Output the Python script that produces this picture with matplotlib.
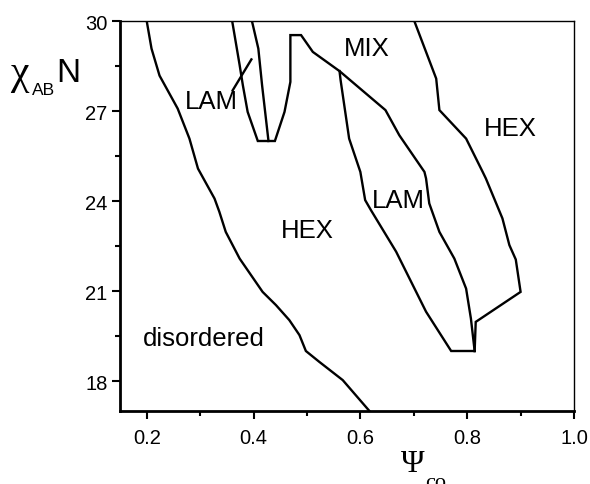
import matplotlib
matplotlib.use("Agg")
import matplotlib.pyplot as plt
from matplotlib.ticker import MultipleLocator, FormatStrFormatter

plt.rcParams['font.family'] = ['Liberation Sans', 'DejaVu Sans']

# Phase boundaries in the (psi_co, chi_AB N) plane
odt_x = [0.200, 0.209, 0.224, 0.258, 0.280, 0.296, 0.327, 0.336, 0.348, 0.374,
         0.417, 0.442, 0.467, 0.486, 0.498, 0.523, 0.567, 0.617]
odt_y = [30.0, 29.08, 28.18, 27.08, 26.08, 25.08, 24.08, 23.64, 22.97, 22.08,
         20.97, 20.53, 20.03, 19.53, 19.0, 18.64, 18.03, 17.0]

# LAM pocket, MIX boundary and right edge of the central LAM region
lam_outer_x = [0.360, 0.374, 0.380, 0.389, 0.408, 0.440, 0.458, 0.469, 0.469,
               0.489, 0.511, 0.561, 0.647, 0.673, 0.720, 0.723, 0.729, 0.748,
               0.776, 0.798, 0.807, 0.814]
lam_outer_y = [30.0, 28.53, 27.86, 26.97, 26.0, 26.0, 26.97, 27.97, 29.53,
               29.53, 28.97, 28.33, 27.03, 26.19, 24.97, 24.75, 23.92, 22.97,
               22.08, 21.08, 20.08, 19.0]

lam_inner_x = [0.397, 0.409, 0.416, 0.428]
lam_inner_y = [30.0, 29.08, 27.86, 26.0]

# Left edge of the central LAM region
lam_mid_x = [0.561, 0.563, 0.579, 0.600, 0.609, 0.620, 0.667, 0.723, 0.770, 0.814]
lam_mid_y = [28.33, 28.03, 26.08, 24.97, 24.03, 23.69, 22.31, 20.31, 19.0, 19.0]

# Boundary of the HEX region at high psi_co
hex_x = [0.814, 0.816, 0.900, 0.891, 0.879, 0.866, 0.835, 0.829, 0.798, 0.748,
         0.742, 0.701]
hex_y = [19.0, 19.97, 20.97, 22.05, 22.53, 23.42, 24.75, 24.97, 26.08, 27.03,
         28.08, 30.0]

# Leader line to the small LAM pocket
leader_x = [0.361, 0.396]
leader_y = [27.69, 28.72]

phase_labels = ["LAM", "MIX", "HEX", "LAM", "HEX", "disordered"]
label_x = [0.322, 0.612, 0.880, 0.671, 0.500, 0.3065]
label_y = [27.32, 29.10, 26.45, 24.03, 23.03, 19.45]

x_ticks = [0.2, 0.4, 0.6, 0.8, 1.0]
y_ticks = [18, 21, 24, 27, 30]

fig = plt.figure(figsize=(5.9, 4.85), dpi=100)
ax = fig.add_axes([120 / 590, 73 / 485, 454 / 590, 390 / 485])

lw = 1.7
for xs, ys in [(odt_x, odt_y), (lam_outer_x, lam_outer_y),
               (lam_inner_x, lam_inner_y), (lam_mid_x, lam_mid_y),
               (hex_x, hex_y), (leader_x, leader_y)]:
    ax.plot(xs, ys, color='black', lw=lw, solid_joinstyle='miter')

for t, x, y in zip(phase_labels, label_x, label_y):
    ax.text(x, y, t, ha='center', va='center', fontsize=18.5)

ax.set_xlim(0.15, 1.0)
ax.set_ylim(17, 30)
ax.set_xticks(x_ticks)
ax.set_yticks(y_ticks)
ax.xaxis.set_major_formatter(FormatStrFormatter('%.1f'))
ax.xaxis.set_minor_locator(MultipleLocator(0.1))
ax.yaxis.set_minor_locator(MultipleLocator(1.5))
ax.tick_params(which='both', direction='out', top=False, right=False,
               width=1.5, labelsize=14.5)
ax.tick_params(which='major', length=6)
ax.tick_params(which='minor', length=3.5)
ax.tick_params(axis='x', pad=6)
ax.tick_params(axis='y', pad=3)

ax.spines['left'].set_linewidth(2.0)
ax.spines['bottom'].set_linewidth(2.0)
ax.spines['top'].set_linewidth(1.0)
ax.spines['right'].set_linewidth(1.0)

# Axis titles
def fx(px):
    return px / 590

def fy(py):
    return 1 - py / 485

fig.text(fx(10), fy(84), "χ", fontsize=30, family=['Liberation Serif', 'DejaVu Serif'],
         ha='left', va='baseline')
fig.text(fx(32), fy(95), "AB", fontsize=12.5, ha='left', va='baseline')
fig.text(fx(56), fy(82), "N", fontsize=24, ha='left', va='baseline')

fig.text(fx(401), fy(472), "Ψ", fontsize=23, family=['Liberation Serif', 'DejaVu Serif'],
         ha='left', va='baseline')
fig.text(fx(425), fy(488), "co", fontsize=16, family=['Liberation Serif', 'DejaVu Serif'],
         ha='left', va='baseline')

fig.savefig("out.png", dpi=100)
